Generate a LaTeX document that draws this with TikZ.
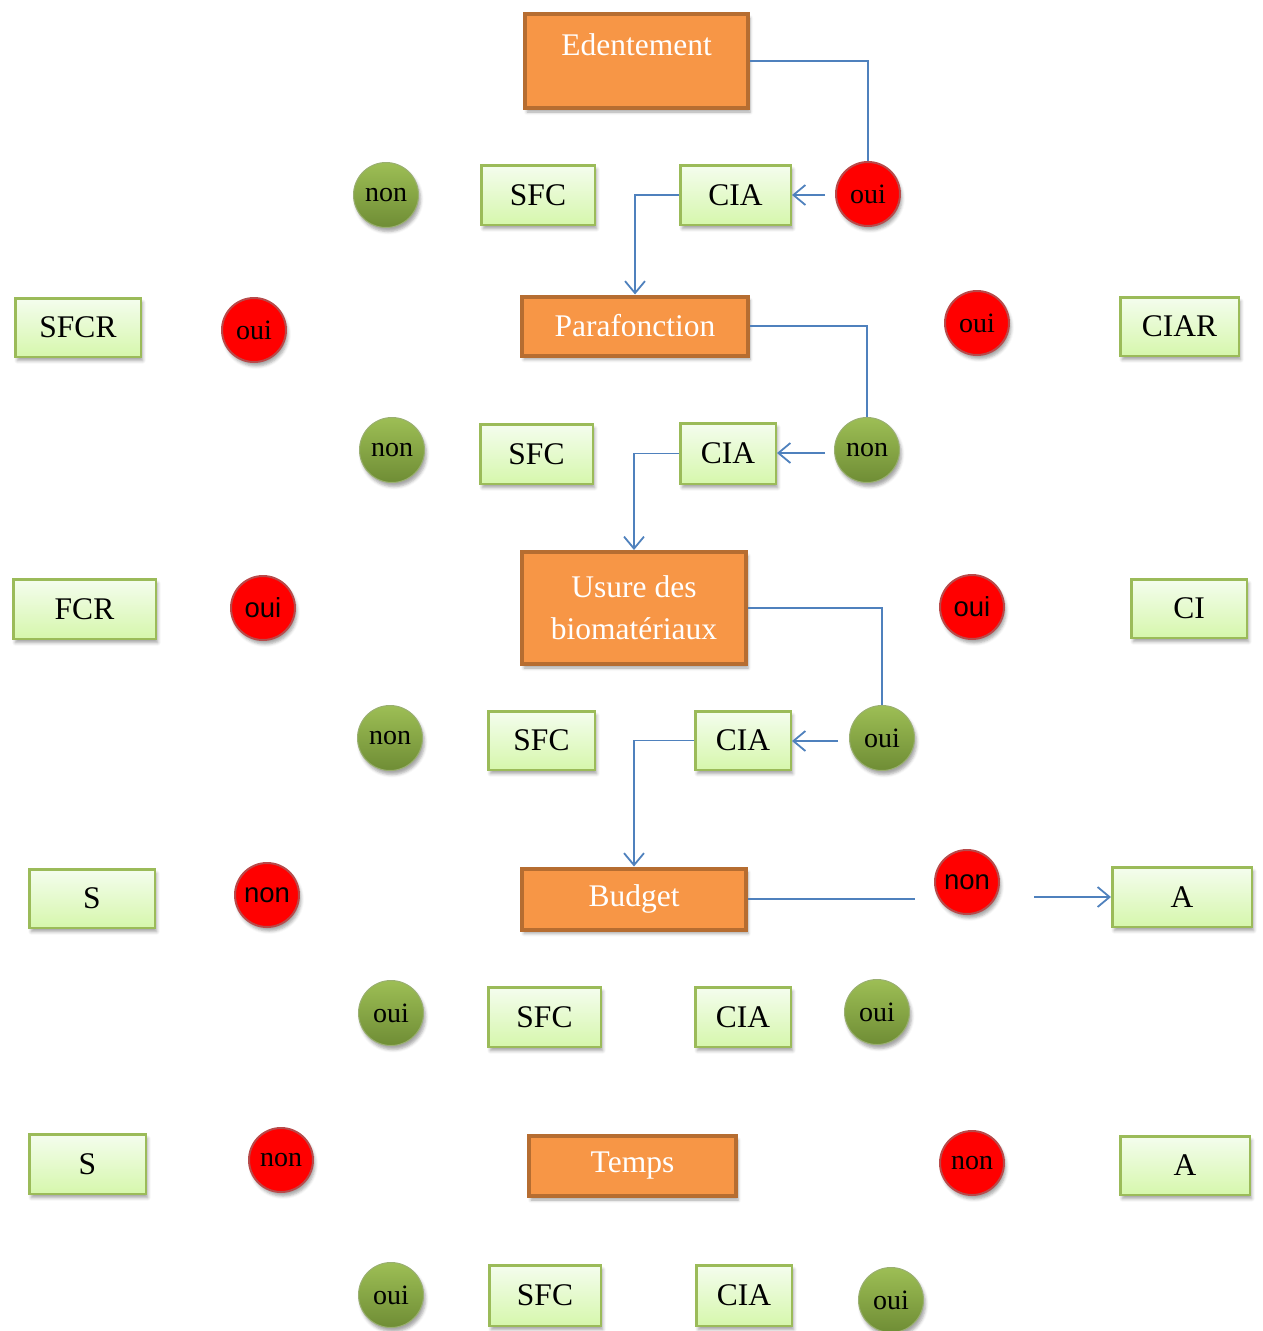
\documentclass[tikz,border=0pt]{standalone}
\usepackage{fontspec}
\setmainfont{Liberation Serif}
\newfontfamily\arialf{Liberation Sans}
\usetikzlibrary{arrows.meta,shadows.blur,calc}
\definecolor{ofill}{HTML}{F79646}
\definecolor{oborder}{HTML}{B66D31}
\definecolor{gborder}{HTML}{9BBB59}
\definecolor{gtop}{HTML}{F4FDEE}
\definecolor{gbot}{HTML}{D6F7AC}
\definecolor{ctop}{HTML}{9DBE55}
\definecolor{cbot}{HTML}{6F8D35}
\definecolor{rborder}{HTML}{B84A4A}
\definecolor{conn}{HTML}{4F81BD}
\begin{document}
\begin{tikzpicture}[x=1pt,y=-1pt,
  shad/.style={blur shadow={shadow xshift=2pt,shadow yshift=-4pt,shadow blur radius=3pt,shadow opacity=35}},
  obox/.style={draw=oborder,line width=4pt,fill=ofill,text=white,align=center,inner sep=0pt,
    font=\fontsize{31.5}{42}\selectfont,shad},
  gbox/.style={draw=gborder,line width=2.5pt,top color=gtop,bottom color=gbot,inner sep=0pt,
    font=\fontsize{31.5}{38}\selectfont,shad},
  gcirc/.style={circle,draw=cbot!70,line width=1pt,top color=ctop,bottom color=cbot,inner sep=0pt,
    minimum size=65pt,font=\fontsize{28}{32}\selectfont,shad},
  rcirc/.style={circle,draw=rborder,line width=2pt,fill=red,inner sep=0pt,
    minimum size=64pt,font=\fontsize{28}{32}\selectfont,shad},
  sansl/.style={font=\arialf\fontsize{27.5}{32}\selectfont},
  conn/.style={draw=conn,line width=1.8pt},
  carr/.style={conn,-{Straight Barb[length=12pt,width=20pt,line width=1.8pt]}}
]
\useasboundingbox (0,0) rectangle (1262,1331);

% orange boxes
\node[obox,minimum width=223pt,minimum height=94pt] (eden) at (636.5,61)
  {\raisebox{16pt}[\height][\depth]{Edentement}};
\node[obox,minimum width=226pt,minimum height=59pt] (para) at (635,326) {Parafonction};
\node[obox,minimum width=224pt,minimum height=112pt] (usure) at (634,608) {Usure des\\biomatériaux};
\node[obox,minimum width=224pt,minimum height=61pt] (budget) at (634,899) {Budget};
\node[obox,minimum width=207pt,minimum height=60pt] (temps) at (632.5,1166) {Temps};

% green boxes
\node[gbox,minimum width=113.5pt,minimum height=59.5pt] (sfc1) at (538,195) {SFC};
\node[gbox,minimum width=110.5pt,minimum height=59.5pt] (cia1) at (735.5,195) {CIA};
\node[gbox,minimum width=125.5pt,minimum height=58.5pt] (sfcr) at (78,327.5) {SFCR};
\node[gbox,minimum width=118.5pt,minimum height=58.5pt] (ciar) at (1179.5,326.5) {CIAR};
\node[gbox,minimum width=112.5pt,minimum height=59.5pt] (sfc2) at (536.5,454) {SFC};
\node[gbox,minimum width=95.5pt,minimum height=60.5pt] (cia2) at (728,453.5) {CIA};
\node[gbox,minimum width=142.5pt,minimum height=59.5pt] (fcr) at (84.5,609) {FCR};
\node[gbox,minimum width=115.5pt,minimum height=58.5pt] (ci) at (1189,608.5) {CI};
\node[gbox,minimum width=106.5pt,minimum height=58.5pt] (sfc3) at (541.5,740.5) {SFC};
\node[gbox,minimum width=95.5pt,minimum height=58.5pt] (cia3) at (743,740.5) {CIA};
\node[gbox,minimum width=125.5pt,minimum height=58.5pt] (s1) at (92,898.5) {S};
\node[gbox,minimum width=139.5pt,minimum height=59.5pt] (a1) at (1182,897) {A};
\node[gbox,minimum width=112.5pt,minimum height=59.5pt] (sfc4) at (544.5,1017) {SFC};
\node[gbox,minimum width=95.5pt,minimum height=59.5pt] (cia4) at (743,1017) {CIA};
\node[gbox,minimum width=116.5pt,minimum height=59.5pt] (s2) at (87.5,1164) {S};
\node[gbox,minimum width=129.5pt,minimum height=58.5pt] (a2) at (1185,1165.5) {A};
\node[gbox,minimum width=111.5pt,minimum height=60.5pt] (sfc6) at (545,1295.5) {SFC};
\node[gbox,minimum width=95.5pt,minimum height=60.5pt] (cia6) at (744,1295.5) {CIA};

% circles
\node[gcirc] (g1) at (386,195) {non};
\node[rcirc] (r1) at (868,194) {oui};
\node[rcirc] (r2) at (254,330) {oui};
\node[rcirc] (r3) at (977,323) {oui};
\node[gcirc] (g2) at (392,450) {non};
\node[gcirc] (g3) at (867,450) {non};
\node[rcirc,sansl] (r4) at (263,608) {oui};
\node[rcirc,sansl] (r5) at (972,607) {oui};
\node[gcirc] (g4) at (390,738) {non};
\node[gcirc] (g5) at (882,738) {oui};
\node[rcirc,sansl] (r6) at (267,895) {non};
\node[rcirc,sansl] (r7) at (967,882) {non};
\node[gcirc] (g6) at (391,1013) {oui};
\node[gcirc] (g7) at (877,1012) {oui};
\node[rcirc] (r8) at (281,1160) {non};
\node[rcirc] (r9) at (972,1163) {non};
\node[gcirc] (g8) at (391,1295) {oui};
\node[gcirc] (g9) at (891,1300) {oui};

% free ends
\coordinate (e1) at ($(r1.west)+(-10,1)$);
\coordinate (e2) at ($(g3.west)+(-9,3)$);
\coordinate (e3) at ($(g5.west)+(-11,3)$);
\coordinate (e4) at (915,899);
\coordinate (e5) at (1034,897);

% connectors
\draw[conn] (eden.east) -| (r1.north);
\draw[carr] (e1) -- (e1 -| cia1.east);
\draw[carr] (cia1.west) -| (para.north);
\draw[conn] (para.east) -| (g3.north);
\draw[carr] (e2) -- (e2 -| cia2.east);
\draw[carr] (cia2.west) -| (usure.north);
\draw[conn] (usure.east) -| (g5.north);
\draw[carr] (e3) -- (e3 -| cia3.east);
\draw[carr] (cia3.west) -| (budget.north);
\draw[conn] (budget.east) -- (e4);
\draw[carr] (e5) -- (a1.west);
\end{tikzpicture}
\end{document}
